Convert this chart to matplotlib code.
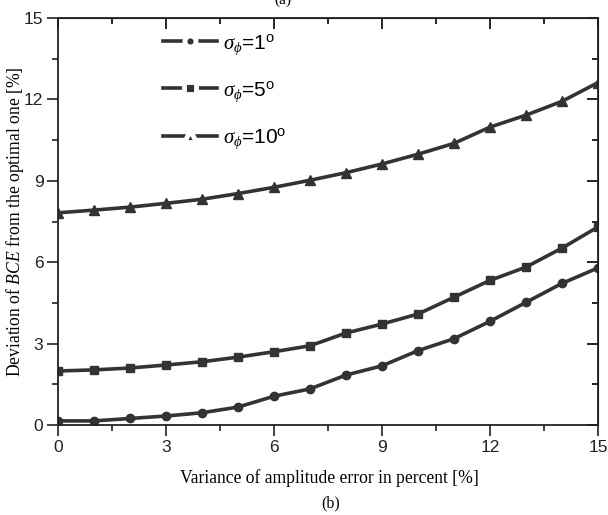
import numpy as np
import matplotlib as mpl
mpl.use('Agg')
import matplotlib.pyplot as plt
from matplotlib.lines import Line2D
from matplotlib.ticker import MultipleLocator

#--------------------------------------------
# data
variance = [0, 1, 2, 3, 4, 5, 6, 7, 8, 9, 10, 11, 12, 13, 14, 15]
dev_sig1 = [0.15, 0.15, 0.24, 0.33, 0.45, 0.66, 1.06, 1.33, 1.84, 2.18, 2.74, 3.18, 3.82, 4.52, 5.22, 5.79]
dev_sig5 = [1.99, 2.03, 2.10, 2.21, 2.33, 2.50, 2.70, 2.92, 3.39, 3.72, 4.09, 4.71, 5.33, 5.82, 6.52, 7.30]
dev_sig10 = [7.82, 7.92, 8.03, 8.17, 8.32, 8.53, 8.76, 9.02, 9.30, 9.62, 9.98, 10.38, 10.98, 11.42, 11.93, 12.62]
labels = [r'$\sigma_{\phi}$=1$^{\mathrm{o}}$', r'$\sigma_{\phi}$=5$^{\mathrm{o}}$', r'$\sigma_{\phi}$=10$^{\mathrm{o}}$']
markers = ['o', 's', '^']
xticks = [0, 3, 6, 9, 12, 15]
yticks = [0, 3, 6, 9, 12, 15]
#--------------------------------------------

col = '#333333'
plt.rcParams['font.family'] = 'Liberation Sans'
plt.rcParams['mathtext.fontset'] = 'custom'
plt.rcParams['mathtext.it'] = 'Liberation Serif:italic'
plt.rcParams['mathtext.rm'] = 'Liberation Sans'

fig = plt.figure(figsize=(6.08, 5.15), dpi=100)
ax = fig.add_axes([0.0954, 0.1748, 0.8882, 0.7902])

series = [dev_sig1, dev_sig5, dev_sig10]
for d, m in zip(series, markers):
    ax.plot(variance, d, color=col, lw=2.6, marker=m, ms=6.5 if m == '^' else 6)

ax.set_xlim(0, 15)
ax.set_ylim(0, 15)
ax.set_xticks(xticks)
ax.set_yticks(yticks)
ax.xaxis.set_minor_locator(MultipleLocator(1.5))
ax.yaxis.set_minor_locator(MultipleLocator(1.5))
ax.tick_params(which='both', direction='out', top=False, right=False, labelsize=12.5, width=1.2,
               colors='#222222', pad=2.5)
ax.tick_params(which='major', length=8)
ax.tick_params(which='minor', length=4.5)
for sp in ax.spines.values():
    sp.set_linewidth(1.3)
    sp.set_color('#222222')

# mirrored inward ticks on top and right
ax2 = ax.secondary_xaxis('top')
ax2.set_xticks(xticks)
ax2.xaxis.set_minor_locator(MultipleLocator(1.5))
ax2.tick_params(which='both', direction='in', labeltop=False, width=1.2)
ax2.tick_params(which='major', length=8)
ax2.tick_params(which='minor', length=4.5)
ax3 = ax.secondary_yaxis('right')
ax3.set_yticks(yticks)
ax3.yaxis.set_minor_locator(MultipleLocator(1.5))
ax3.tick_params(which='both', direction='in', labelright=False, width=1.2)
ax3.tick_params(which='major', length=8)
ax3.tick_params(which='minor', length=4.5)

# axis labels as figure text so they sit where the original has them
fig.text(0.541, 0.072, 'Variance of amplitude error in percent [%]', ha='center', va='center',
         family='Liberation Serif', fontsize=12.7)
fig.text(0.024, 0.570, r'Deviation of $BCE$ from the optimal one [%]', ha='center', va='center',
         rotation=90, family='Liberation Serif', fontsize=12.7)

# legend handles: marker with a white ring so the line breaks around it
handles = [Line2D([], [], color=col, lw=2.6, marker=m, ms=8, mec='white', mew=3.5, mfc=col)
           for m in markers]
leg = ax.legend(handles, labels, loc='upper left', bbox_to_anchor=(0.159, 1.012), frameon=False,
                fontsize=15, handlelength=2.6, labelspacing=1.08, handletextpad=0.3)

fig.text(0.543, 0.023, '(b)', ha='center', va='center', family='Liberation Serif', fontsize=11.5)
fig.text(0.465, 1.0, '(a)', ha='center', va='center', family='Liberation Serif', fontsize=11)

plt.savefig('out.png', dpi=100)
